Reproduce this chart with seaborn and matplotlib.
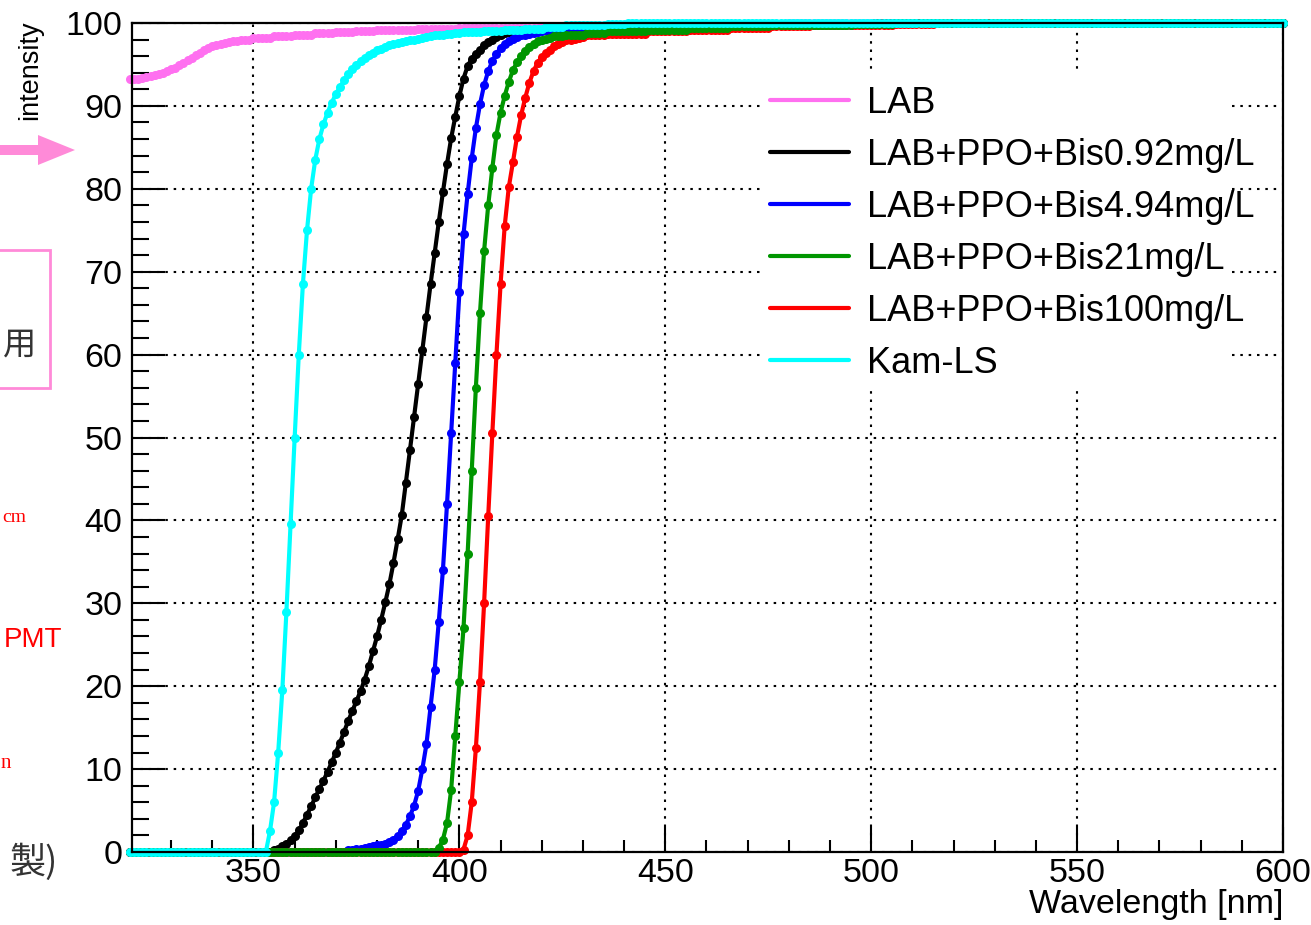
import numpy as np
import pandas as pd
import matplotlib.pyplot as plt
import seaborn as sns
from matplotlib.lines import Line2D
from matplotlib.patches import Polygon, Rectangle

# wavelength grid of the measurement, 1 nm steps
wavelength = list(range(320, 601))

lab = ([93.3, 93.3, 93.3, 93.4, 93.5, 93.6, 93.7, 93.8, 94.0, 94.2,
        94.4, 94.6, 94.9, 95.2, 95.5, 95.8, 96.1, 96.4, 96.7, 97.0,
        97.2, 97.4, 97.5, 97.6, 97.7, 97.8, 97.85, 97.9, 97.95, 98.0]
       + [98.2] * 5 + [98.4] * 5 + [98.6] * 5 + [98.75] * 5 + [98.9] * 5 + [99.0] * 5
       + [99.15] * 10 + [99.3] * 10 + [99.45] * 20 + [99.6] * 20 + [99.8] * 20
       + [99.9] * 20 + [100.0] * 121)

bis092 = ([0.0] * 35
          + [0.2, 0.4, 0.7, 1.0, 1.4, 1.9, 2.6, 3.5, 4.5, 5.5,
             6.6, 7.6, 8.6, 9.7, 10.8, 12.0, 13.2, 14.5, 15.8, 17.0,
             18.2, 19.4, 20.8, 22.4, 24.2, 26.0, 28.0, 30.1, 32.3, 34.9,
             37.7, 40.6, 44.5, 48.5, 52.5, 56.5, 60.5, 64.5, 68.5, 72.3,
             76.0, 79.6, 83.0, 86.1, 88.7, 91.2, 93.3, 94.8, 95.7, 96.3,
             96.8, 97.3, 97.7, 98.0, 98.3, 98.6]
          + [98.8, 98.9, 99.0, 99.05, 99.1]
          + [99.2] * 10 + [99.3] * 10 + [99.4] * 10 + [99.5] * 10 + [99.6] * 10
          + [99.7] * 10 + [99.8] * 10 + [99.9] * 15 + [100.0] * 100)

bis494 = ([0.0] * 53
          + [0.3, 0.3, 0.4, 0.4, 0.5, 0.6, 0.7, 0.8, 0.9, 1.0,
             1.2, 1.5, 1.9, 2.5, 3.3, 4.3, 5.6, 7.4, 10.0, 13.0,
             17.5, 22.0, 27.8, 34.0, 42.0, 50.5, 59.0, 67.5, 74.5, 79.4,
             83.7, 87.3, 90.2, 92.5, 94.2, 95.4, 96.3, 97.0, 97.5, 97.8,
             98.1, 98.3, 98.5, 98.6, 98.7, 98.8, 98.9, 99.0]
          + [99.1] * 5 + [99.2] * 10 + [99.3] * 10 + [99.4] * 10 + [99.5] * 10
          + [99.6] * 10 + [99.7] * 10 + [99.8] * 10 + [99.9] * 10 + [100.0] * 95)

bis21 = ([0.0] * 75
         + [0.5, 1.5, 3.5, 7.5, 14.0, 20.5, 27.0, 36.0, 46.0, 56.0,
            65.0, 72.5, 78.0, 82.5, 86.5, 89.2, 91.2, 92.9, 94.3, 95.3,
            96.0, 96.6, 97.1, 97.5, 97.8, 98.0, 98.1, 98.25]
         + [98.4] * 3 + [98.6] * 5 + [98.8] * 5 + [99.0] * 10 + [99.2] * 10
         + [99.4] * 10 + [99.6] * 10 + [99.7] * 10 + [99.8] * 10 + [99.9] * 10
         + [100.0] * 95)

bis100 = ([0.0] * 81
          + [0.3, 2.0, 6.0, 12.5, 20.5, 30.0, 40.5, 50.5, 60.0, 68.5,
             75.5, 80.2, 83.2, 86.3, 88.9, 91.0, 92.8, 94.2, 95.2, 95.9,
             96.4, 96.8, 97.2, 97.5, 97.7, 97.9, 98.0, 98.1, 98.2, 98.3]
          + [98.5] * 5 + [98.7] * 10 + [99.0] * 10 + [99.2] * 10 + [99.4] * 10
          + [99.6] * 10 + [99.7] * 10 + [99.8] * 10 + [99.9] * 10 + [100.0] * 85)

kamls = ([0.0] * 34
         + [2.5, 6.0, 12.0, 19.5, 29.0, 39.6, 50.0, 60.0, 68.5, 75.0,
            80.0, 83.5, 86.0, 87.8, 89.2, 90.4, 91.4, 92.3, 93.1, 93.8,
            94.4, 94.9, 95.4, 95.8, 96.1, 96.4, 96.7,
            96.9, 97.1, 97.3, 97.5, 97.6, 97.7, 97.8, 97.9, 98.0, 98.1,
            98.2, 98.3, 98.4, 98.5, 98.6, 98.6, 98.7, 98.7, 98.8, 98.8]
         + [98.9] * 5 + [99.0] * 5 + [99.2] * 5 + [99.3] * 5 + [99.5] * 5
         + [99.7] * 5 + [99.8] * 5 + [99.9] * 5 + [100.0] * 160)

labels = ["LAB", "LAB+PPO+Bis0.92mg/L", "LAB+PPO+Bis4.94mg/L",
          "LAB+PPO+Bis21mg/L", "LAB+PPO+Bis100mg/L", "Kam-LS"]
series = [lab, bis092, bis494, bis21, bis100, kamls]
colors = ["#ff70f0", "#000000", "#0000ff", "#009600", "#ff0000", "#00ffff"]
draw_order = ["LAB", "LAB+PPO+Bis0.92mg/L", "LAB+PPO+Bis4.94mg/L",
              "LAB+PPO+Bis100mg/L", "LAB+PPO+Bis21mg/L", "Kam-LS"]

frames = []
for name, vals in zip(labels, series):
    assert len(vals) == len(wavelength), name
    frames.append(pd.DataFrame({"wavelength": wavelength, "intensity": vals, "sample": name}))
df = pd.concat(frames, ignore_index=True)

sns.set_style("white")
plt.rcParams["font.family"] = ["Liberation Sans", "DejaVu Sans"]
plt.rcParams["text.color"] = "black"
plt.rcParams["xtick.color"] = "black"
plt.rcParams["ytick.color"] = "black"

W, H = 1311, 925
fig = plt.figure(figsize=(W / 100, H / 100), dpi=100)
ax = fig.add_axes([132 / W, 1 - 852 / H, (1283 - 132) / W, (852 - 23) / H])

sns.lineplot(data=df, x="wavelength", y="intensity", hue="sample", hue_order=draw_order,
             palette=dict(zip(labels, colors)), marker="o", markersize=6.5,
             markeredgewidth=0, linewidth=3, estimator=None, sort=False,
             legend=False, ax=ax, clip_on=False)

ax.set_xlim(320.5, 600)
ax.set_ylim(0, 100)
ax.set_xlabel("")
ax.set_ylabel("")
ax.set_xticks(np.arange(350, 601, 50))
ax.set_xticks(np.arange(330, 601, 10), minor=True)
ax.set_yticks(np.arange(0, 101, 10))
ax.set_yticks(np.arange(0, 101, 2), minor=True)
ax.grid(which="major", color="black", linestyle=(0, (1.2, 2.8)), linewidth=1.5)
ax.set_axisbelow(True)
for s in ax.spines.values():
    s.set_linewidth(1.6)
    s.set_color("black")
ax.tick_params(axis="both", which="both", direction="in", color="black", labelcolor="black",
               labelsize=24.5, width=1.5, bottom=True, left=True, top=False, right=False)
ax.tick_params(axis="y", which="major", length=24, pad=7)
ax.tick_params(axis="y", which="minor", length=12)
ax.tick_params(axis="x", which="major", length=18, pad=4)
ax.tick_params(axis="x", which="minor", length=9)

# white legend box, drawn over the grid like the original
ax.add_patch(Rectangle((760 / W, 1 - 388 / H), 467 / W, 316 / H, transform=fig.transFigure,
                       facecolor="white", edgecolor="none", zorder=1))
handles = [Line2D([], [], color=c, lw=3) for c in colors]
ax.legend(handles, labels, loc="upper left", bbox_to_anchor=(770 / W, 1 - 86 / H),
          bbox_transform=fig.transFigure, frameon=False, fontsize=26, borderpad=0,
          borderaxespad=0, handlelength=2.2, handletextpad=0.5, labelspacing=0.47)

fig.text(1283 / W, 1 - 905 / H, "Wavelength [nm]", ha="right", va="center", fontsize=24.5)
fig.text(30 / W, 1 - 20 / H, "intensity", rotation=90, ha="center", va="top", fontsize=19.5)

# leftovers of the slide next to the plot
pink = "#ff8ad8"
arrow = [(0, 145), (38, 145), (38, 135), (75, 150), (38, 165), (38, 155), (0, 155)]
fig.add_artist(Polygon([(x / W, 1 - y / H) for x, y in arrow], closed=True,
                       transform=fig.transFigure, color=pink, lw=0))
fig.add_artist(Rectangle((-5 / W, 1 - 388 / H), 55 / W, 138 / H, transform=fig.transFigure,
                         fill=False, edgecolor=pink, lw=2))
cjk = ["Noto Sans CJK JP", "DejaVu Sans"]
fig.text(3 / W, 1 - 345 / H, "用", ha="left", va="center", fontsize=24, family=cjk, color="#333333")
fig.text(2 / W, 1 - 518 / H, "cm", ha="left", va="center", fontsize=14,
         family="Liberation Serif", color="red")
fig.text(62 / W, 1 - 640 / H, "PMT", ha="right", va="center", fontsize=20, color="red")
fig.text(1 / W, 1 - 763 / H, "n", ha="left", va="center", fontsize=15,
         family="Liberation Serif", color="red")
fig.text(58 / W, 1 - 862 / H, "製)", ha="right", va="center", fontsize=26, family=cjk, color="#333333")

fig.savefig("out.png", dpi=100)
